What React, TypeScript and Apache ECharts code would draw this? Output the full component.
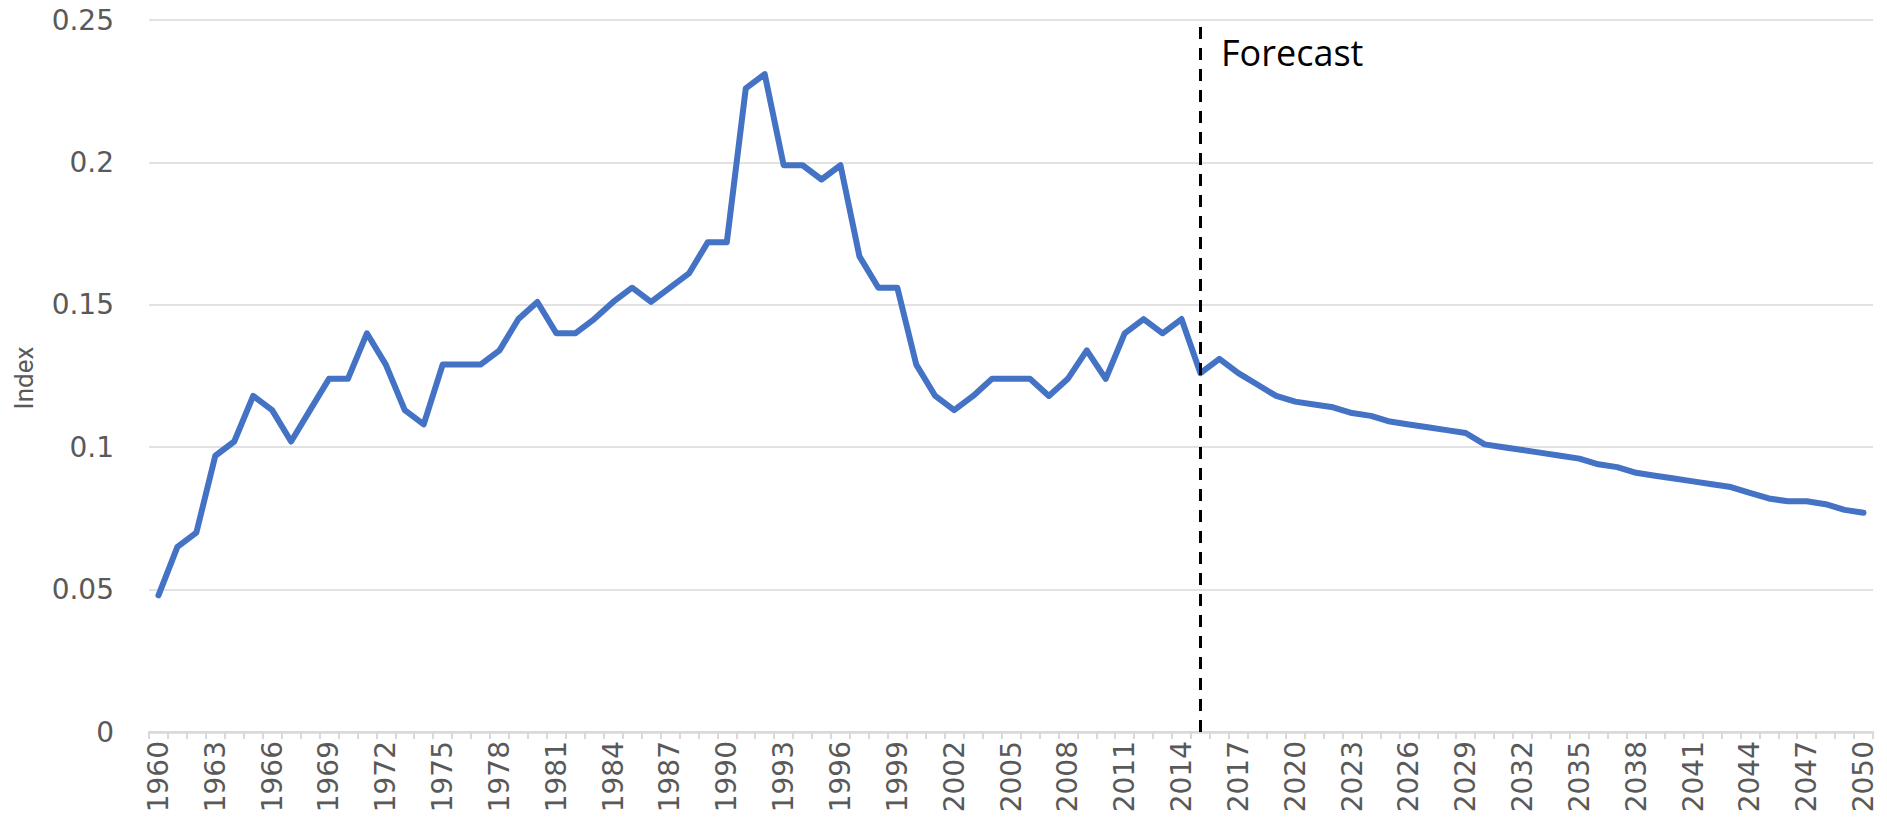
import React, { useEffect, useRef } from "react";
import * as echarts from "echarts";

const years: string[] = Array.from({ length: 91 }, (_, i) => String(1960 + i));

const indexValues: number[] = [
  0.048, 0.065, 0.070, 0.097, 0.102, 0.118, 0.113, 0.102, 0.113, 0.124,
  0.124, 0.140, 0.129, 0.113, 0.108, 0.129, 0.129, 0.129, 0.134, 0.145,
  0.151, 0.140, 0.140, 0.145, 0.151, 0.156, 0.151, 0.156, 0.161, 0.172,
  0.172, 0.226, 0.231, 0.199, 0.199, 0.194, 0.199, 0.167, 0.156, 0.156,
  0.129, 0.118, 0.113, 0.118, 0.124, 0.124, 0.124, 0.118, 0.124, 0.134,
  0.124, 0.140, 0.145, 0.140, 0.145, 0.126, 0.131, 0.126, 0.122, 0.118,
  0.116, 0.115, 0.114, 0.112, 0.111, 0.109, 0.108, 0.107, 0.106, 0.105,
  0.101, 0.100, 0.099, 0.098, 0.097, 0.096, 0.094, 0.093, 0.091, 0.090,
  0.089, 0.088, 0.087, 0.086, 0.084, 0.082, 0.081, 0.081, 0.080, 0.078,
  0.077,
];

const forecastStart = "2015";
const forecastLabel = "Forecast";
const yAxisName = "Index";

export default function App() {
  const ref = useRef<HTMLDivElement>(null);
  useEffect(() => {
    if (!ref.current) return;
    const chart = echarts.init(ref.current, null, { renderer: "svg" });
    const tickFont = "DejaVu Sans";
    chart.setOption({
      animation: false,
      backgroundColor: "#ffffff",
      grid: { left: 149, right: 14, top: 20, bottom: 91, containLabel: false },
      xAxis: {
        type: "category",
        data: years,
        boundaryGap: true,
        axisLine: { lineStyle: { color: "#d9d9d9", width: 2.5 } },
        axisTick: { show: true, interval: 0, length: 7, lineStyle: { color: "#d9d9d9", width: 2 } },
        axisLabel: {
          interval: 2,
          rotate: 90,
          margin: 9,
          color: "#595959",
          fontFamily: tickFont,
          fontSize: 28,
        },
        splitLine: { show: false },
      },
      yAxis: {
        type: "value",
        min: 0,
        max: 0.25,
        interval: 0.05,
        axisLine: { show: false },
        axisTick: { show: false },
        axisLabel: {
          margin: 35,
          color: "#595959",
          fontFamily: tickFont,
          fontSize: 28,
        },
        splitLine: { lineStyle: { color: "#d9d9d9", width: 1.5 } },
      },
      series: [
        {
          type: "line",
          data: indexValues,
          symbol: "none",
          lineStyle: { color: "#4472C4", width: 6, join: "round", cap: "round" },
          markLine: {
            silent: true,
            symbol: "none",
            label: { show: false },
            lineStyle: { color: "#000000", width: 3, type: [12, 9] },
            data: [{ xAxis: forecastStart }],
          },
        },
      ],
      graphic: [
        {
          type: "text",
          x: 1221,
          y: 52,
          style: {
            text: forecastLabel,
            fill: "#000000",
            font: "36px 'Open Sans'",
            textVerticalAlign: "middle",
          },
        },
        {
          type: "text",
          x: 24,
          y: 378,
          rotation: Math.PI / 2,
          style: {
            text: yAxisName,
            fill: "#595959",
            font: "26px Roboto",
            textAlign: "center",
            textVerticalAlign: "middle",
          },
        },
      ],
    });
    return () => chart.dispose();
  }, []);
  return (
    <div
      ref={ref}
      style={{ position: "absolute", left: 0, top: 0, width: 1887, height: 823 }}
    />
  );
}
